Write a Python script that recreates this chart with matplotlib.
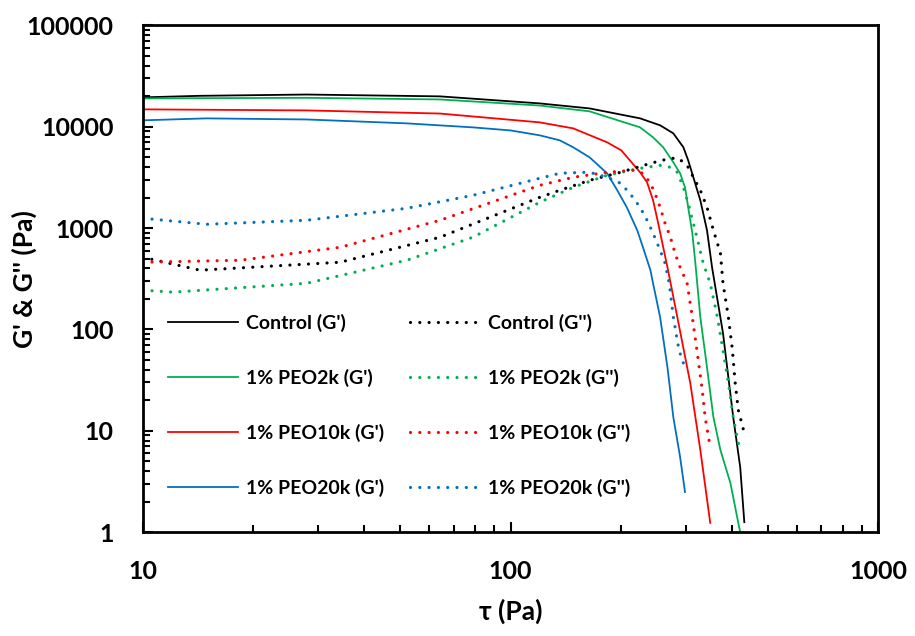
import matplotlib
matplotlib.use("Agg")
import matplotlib.pyplot as plt
from matplotlib.ticker import LogLocator, FixedLocator, NullFormatter

plt.rcParams['font.family'] = ['Lato', 'DejaVu Sans']
plt.rcParams['font.weight'] = 'bold'

# G' (storage modulus) vs shear stress tau (Pa)
ctrl_gp_x = [10, 14.3, 27.9, 64.3, 120, 164, 225, 255, 277, 295, 304, 314, 328, 342, 353, 378, 403, 421, 432]
ctrl_gp_y = [19500, 20200, 20800, 19950, 17000, 15170, 12100, 10330, 8610, 6270, 4660, 3170, 1880, 951, 410,
             91.8, 13.6, 4.37, 1.25]

peo2k_gp_x = [10, 27.9, 64.3, 120, 164, 225, 244, 260, 277, 289, 298, 304, 312, 318, 328, 342, 356, 372,
              396, 416, 421]
peo2k_gp_y = [19050, 19300, 18600, 16200, 14190, 9860, 7860, 6270, 4460, 3470, 2525, 1603, 889, 450, 132,
              42.2, 13.6, 6.44, 3.04, 1.23, 1.0]

peo10k_gp_x = [10, 27.9, 64.3, 120, 148, 183, 200, 211, 225, 235, 244, 252, 260, 268, 284, 308, 328, 349]
peo10k_gp_y = [14850, 14500, 13500, 11050, 9640, 7020, 5850, 4660, 3550, 2830, 1880, 1114, 647, 384, 132,
               29.5, 6.44, 1.23]

peo20k_gp_x = [10, 14.9, 27.9, 52.2, 79, 100, 120, 136, 148, 164, 183, 195, 207, 221, 229, 240, 244, 255,
               267, 277, 289, 298]
peo20k_gp_y = [11570, 12100, 11800, 10800, 9860, 9200, 8230, 7350, 6270, 4990, 3470, 2360, 1603, 951, 647,
               384, 285, 132, 42.2, 13.6, 5.5, 2.48]

# G'' (loss modulus)
ctrl_gpp_x = [10, 14.3, 34.4, 64.3, 120, 136, 164, 199, 240, 272, 286, 302, 314, 328, 342, 356, 372, 378,
              391, 401, 408, 416, 432]
ctrl_gpp_y = [515, 384, 460, 812, 2010, 2360, 2960, 3550, 4355, 4880, 4880, 4160, 3170, 2360, 1603, 951,
              564, 285, 132, 62.4, 29.5, 16, 9.47]

peo2k_gpp_x = [10, 12.1, 27.9, 52.2, 79, 120, 148, 183, 225, 255, 272, 284, 295, 304, 314, 324, 334, 349,
               365, 378, 391, 403, 413, 421]
peo2k_gpp_y = [244, 233, 285, 481, 812, 1795, 2525, 3320, 3890, 4160, 3980, 3550, 2525, 1757, 1114, 708,
               450, 285, 132, 62.4, 29.5, 13.6, 8.65, 6.15]

peo10k_gpp_x = [10, 18.4, 34.4, 64.3, 120, 148, 183, 215, 229, 240, 247, 255, 263, 272, 280, 289, 302, 312,
                321, 332, 338, 347]
peo10k_gpp_y = [460, 481, 646, 1194, 2640, 3170, 3550, 3720, 3470, 2770, 2200, 1603, 1114, 811, 564, 410,
                285, 132, 62.4, 25.1, 13.6, 7.72]

peo20k_gpp_x = [10, 14.9, 27.9, 52.2, 79, 120, 136, 158, 168, 183, 199, 211, 225, 235, 244, 255, 263, 270,
                277, 287, 295]
peo20k_gpp_y = [1250, 1090, 1194, 1567, 2105, 3100, 3470, 3550, 3470, 3170, 2770, 2200, 1603, 1194, 889,
                604, 450, 285, 132, 62.4, 46.4]

fig = plt.figure(figsize=(9.15, 6.36), dpi=100)
ax = fig.add_axes([0.156, 0.1635, 0.804, 0.7965])

solid_lw = 1.3
dot = dict(lw=2.3, linestyle=(0, (0.01, 2.9)), dash_capstyle='round')

ax.plot(ctrl_gp_x, ctrl_gp_y, color='black', lw=solid_lw, label="Control (G')")
ax.plot(peo2k_gp_x, peo2k_gp_y, color='#00B050', lw=solid_lw, label="1% PEO2k (G')")
ax.plot(peo10k_gp_x, peo10k_gp_y, color='#FF0000', lw=solid_lw, label="1% PEO10k (G')")
ax.plot(peo20k_gp_x, peo20k_gp_y, color='#0070C0', lw=solid_lw, label="1% PEO20k (G')")
ax.plot(ctrl_gpp_x, ctrl_gpp_y, color='black', label="Control (G'')", **dot)
ax.plot(peo2k_gpp_x, peo2k_gpp_y, color='#00B050', label="1% PEO2k (G'')", **dot)
ax.plot(peo10k_gpp_x, peo10k_gpp_y, color='#FF0000', label="1% PEO10k (G'')", **dot)
ax.plot(peo20k_gpp_x, peo20k_gpp_y, color='#0070C0', label="1% PEO20k (G'')", **dot)

ax.set_xscale('log')
ax.set_yscale('log')
ax.set_xlim(10, 1000)
ax.set_ylim(1, 100000)

ax.xaxis.set_major_locator(FixedLocator([10, 100, 1000]))
ax.yaxis.set_major_locator(FixedLocator([1, 10, 100, 1000, 10000, 100000]))
ax.set_xticklabels(['10', '100', '1000'])
ax.set_yticklabels(['1', '10', '100', '1000', '10000', '100000'])
ax.xaxis.set_minor_locator(LogLocator(base=10, subs=range(2, 10)))
ax.yaxis.set_minor_locator(LogLocator(base=10, subs=range(2, 10)))
ax.xaxis.set_minor_formatter(NullFormatter())
ax.yaxis.set_minor_formatter(NullFormatter())

ax.tick_params(which='both', direction='in', width=1.5, labelsize=18)
ax.tick_params(axis='y', which='major', length=7, pad=21)
ax.tick_params(axis='x', which='major', length=7, pad=20)
ax.tick_params(which='minor', length=5)
for lab in ax.get_xticklabels() + ax.get_yticklabels():
    lab.set_fontweight('bold')
for s in ax.spines.values():
    s.set_linewidth(2)

ax.set_xlabel('τ (Pa)', fontsize=19, fontweight='bold')
ax.set_ylabel("G' & G'' (Pa)", fontsize=19, fontweight='bold')
ax.xaxis.set_label_coords(0.5, -0.132)
ax.yaxis.set_label_coords(-0.144, 0.5)

ax.legend(ncol=2, loc='lower left', bbox_to_anchor=(0.011, 0.035), frameon=False,
          prop={'size': 14, 'weight': 'bold'}, handlelength=3.6, handletextpad=0.42,
          labelspacing=1.9, columnspacing=1.3)

fig.savefig('out.png', dpi=100)
